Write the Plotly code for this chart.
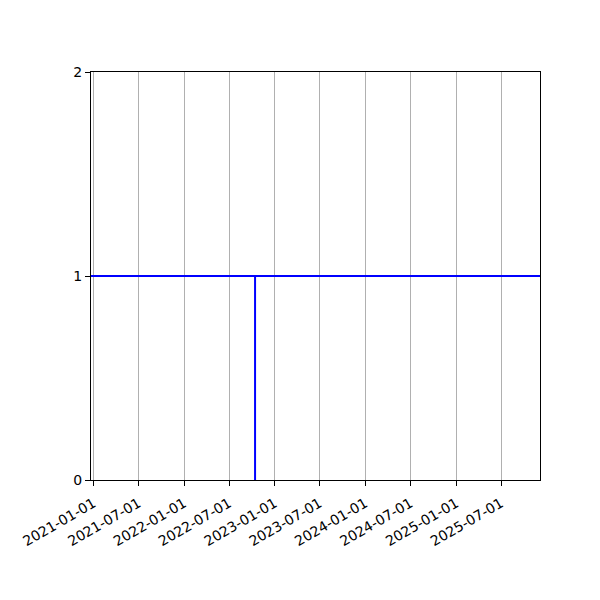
import plotly.graph_objects as go

# data
level_dates = ["2020-12-22", "2025-12-05"]
level_values = [1, 1]
event_date = "2022-10-14"
event_values = [0, 1]
tick_dates = ["2021-01-01", "2021-07-01", "2022-01-01", "2022-07-01", "2023-01-01",
              "2023-07-01", "2024-01-01", "2024-07-01", "2025-01-01", "2025-07-01"]
y_ticks = [0, 1, 2]

fig = go.Figure()
fig.add_trace(go.Scatter(x=level_dates, y=level_values, mode="lines",
                         line=dict(color="#0000ff", width=2), showlegend=False))
fig.add_trace(go.Scatter(x=[event_date, event_date], y=event_values, mode="lines",
                         line=dict(color="#0000ff", width=2), showlegend=False))

fig.update_layout(
    width=600, height=600,
    margin=dict(l=83, r=68, t=64, b=128),
    paper_bgcolor="white", plot_bgcolor="white",
    font=dict(family="DejaVu Sans", size=14, color="black"),
)
fig.update_xaxes(
    type="date", range=level_dates, automargin=False,
    tickvals=tick_dates, ticktext=tick_dates, tickangle=-30,
    ticklabelstandoff=4,
    showgrid=True, gridcolor="#b0b0b0", gridwidth=1,
    showline=True, linecolor="black", linewidth=1, mirror=True,
    ticks="outside", ticklen=5, tickcolor="black", zeroline=False,
)
fig.update_yaxes(
    range=[0, 2], tickvals=y_ticks, automargin=False,
    showgrid=False,
    showline=True, linecolor="black", linewidth=1, mirror=True,
    ticks="outside", ticklen=5, tickcolor="black", zeroline=False,
)

fig.write_html("out.html")
